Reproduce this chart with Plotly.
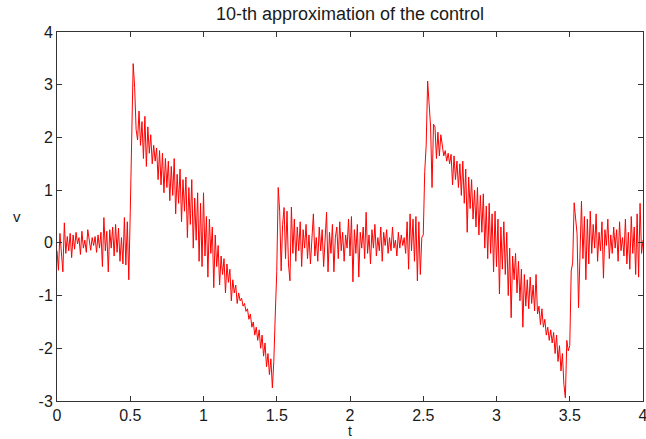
import plotly.graph_objects as go

rest1 = [-0.15, -0.52, 0.18, -0.30, -0.55, 0.38, -0.20, 0.12, -0.15, 0.18,
         -0.28, 0.15, -0.12, 0.20, -0.02, 0.10, -0.22, 0.22, -0.10, 0.05,
         -0.18, 0.25, 0.00, -0.14, 0.10, -0.05, 0.12, -0.18, 0.15, -0.10,
         0.20, -0.45, 0.48, -0.15, 0.22, -0.55, 0.25, -0.10, 0.30, -0.25,
         0.35, -0.18, 0.28, -0.35, 0.10, -0.40, 0.48, -0.42, 0.40, -0.70]

surge1 = [0.58, 2.10, 3.40, 2.95, 2.15, 1.95, 2.50, 1.85, 2.30, 1.60,
          2.40, 1.45, 2.20, 1.70, 2.05, 1.50, 1.85, 1.55, 1.80, 1.20,
          1.75, 1.10, 1.70, 0.95, 1.60, 1.05, 1.55, 0.80, 1.45, 0.90,
          1.60, 0.55, 1.30, 0.75, 1.40, 0.40, 1.20, 0.60, 1.25, 0.10,
          1.05, 0.35, 1.20, -0.10, 0.85, 0.05, 0.95, -0.35, 0.75, -0.45,
          0.95, -0.25, 0.50, -0.65, 0.45, -0.20, 0.30, -0.85, 0.15, -0.45,
          -0.05, -0.80, -0.25, -0.60, -0.30, -0.95, -0.40, -0.75, -0.50, -1.10,
          -0.70, -0.95, -0.80, -1.15, -0.95, -1.10, -1.05, -1.20, -1.15, -1.30,
          -1.25, -1.45, -1.35, -1.60, -1.50, -1.75, -1.60, -1.85, -1.65, -2.00,
          -1.75, -2.15, -1.90, -2.35, -2.10, -2.50, -2.20, -2.75, -2.25, -1.35,
          -0.55, 1.05]

rest2 = [0.60, -0.53, 0.35, 0.67, -0.30, 0.60, -0.40, -0.72, 0.68, -0.20,
         0.45, -0.35, 0.30, -0.15, 0.40, -0.45, 0.25, -0.10, 0.35, -0.30,
         0.15, -0.40, 0.20, 0.55, -0.25, 0.10, -0.35, 0.30, -0.15, 0.25,
         -0.45, 0.15, 0.58, -0.55, 0.20, -0.20, 0.35, -0.55, 0.10, 0.30,
         -0.30, 0.40, -0.15, 0.20, -0.35, 0.15, -0.10, 0.45, -0.25, 0.50,
         -0.74, 0.25, -0.20, 0.35, -0.65, 0.20, -0.10, 0.30, -0.30, 0.58,
         -0.20, 0.15, -0.40, 0.25, -0.10, 0.35, -0.25, 0.10, -0.15, 0.30,
         -0.35, 0.20, -0.05, 0.25, -0.20, 0.10, -0.15, 0.30, -0.10, 0.05,
         -0.25, 0.20, -0.10, 0.15, -0.05, 0.10, -0.20, 0.40, -0.50, 0.55,
         -0.15, 0.45, -0.35, 0.50, -0.72, 0.40, -0.60, 0.10]

surge2 = [0.15, 1.35, 1.85, 3.07, 2.70, 2.20, 1.05, 2.25, 2.20, 1.60,
          2.10, 1.65, 2.05, 1.80, 1.65, 1.75, 1.55, 1.70, 1.50, 1.68,
          1.10, 1.65, 1.20, 1.55, 1.05, 1.50, 0.90, 1.55, 0.75, 1.40,
          0.20, 1.25, 0.65, 1.20, 0.45, 1.00, 0.30, 1.05, 0.15, 0.90,
          0.20, 0.93, -0.10, 0.70, -0.30, 0.75, -0.20, 0.55, -0.55, 0.60,
          -0.45, 0.45, -0.97, 0.30, -0.50, 0.40, -0.60, 0.20, -1.00, -0.10,
          -1.42, -0.25, -0.70, -0.20, -0.95, -0.35, -1.10, -0.50, -1.60, -0.60,
          -1.20, -0.70, -1.25, -0.65, -1.15, -0.80, -1.29, -0.60, -1.35, -1.20,
          -1.55, -1.25, -1.60, -1.45, -1.75, -1.60, -1.85, -1.65, -1.90, -1.70,
          -2.10, -1.75, -2.25, -1.95, -2.43, -2.10, -2.68, -2.94, -1.85, -2.05,
          -1.95, -0.53, -0.38, 0.76, 0.48, 0.17]

rest3 = [-1.23, 0.10, 0.79, -0.30, 0.50, -0.70, 0.45, -0.40, 0.60, -0.20,
         0.35, -0.10, 0.55, -0.35, 0.20, -0.15, 0.40, -0.67, 0.25, -0.05,
         0.45, -0.30, 0.15, -0.20, 0.30, -0.10, 0.25, -0.35, 0.40, -0.15,
         0.10, -0.25, 0.45, -0.40, 0.20, -0.50, 0.50, -0.20, 0.30, -0.60,
         0.55, -0.65, 0.75, -0.20, 0.05]

v = rest1 + surge1 + rest2 + surge2 + rest3
assert len(v) == 401, len(v)
t = [round(0.01 * i, 2) for i in range(len(v))]

x_ticks = [0, 0.5, 1, 1.5, 2, 2.5, 3, 3.5, 4]
x_tick_labels = ["0", "0.5", "1", "1.5", "2", "2.5", "3", "3.5", "4"]
y_ticks = [-3, -2, -1, 0, 1, 2, 3, 4]
y_tick_labels = ["-3", "-2", "-1", "0", "1", "2", "3", "4"]

FONT = "Liberation Sans, Arial, Helvetica, sans-serif"
AX = "#333333"
TXT = "#1a1a1a"

fig = go.Figure()
fig.add_trace(go.Scatter(x=t, y=v, mode="lines",
                         line=dict(color="#ff0000", width=1),
                         showlegend=False, hoverinfo="skip"))

axis_common = dict(showgrid=False, zeroline=False, showline=True,
                   linecolor=AX, linewidth=1, mirror="ticks",
                   ticks="inside", ticklen=5, tickcolor=AX, tickwidth=1,
                   automargin=False, ticklabeloverflow="allow",
                   tickfont=dict(family=FONT, size=16, color=TXT))

fig.update_layout(
    width=646, height=439,
    margin=dict(l=57, r=3, t=32, b=38, autoexpand=False),
    paper_bgcolor="white", plot_bgcolor="white",
    font=dict(family=FONT, color=TXT),
    title=dict(text="10-th approximation of the control",
               x=0.5, xref="paper", y=1 - 14 / 439, yref="container",
               xanchor="center", yanchor="middle", automargin=False,
               font=dict(family=FONT, size=18, color=TXT)),
    xaxis=dict(range=[0, 4], tickvals=x_ticks, ticktext=x_tick_labels,
               **axis_common),
    yaxis=dict(range=[-3, 4], tickvals=y_ticks, ticktext=y_tick_labels,
               **axis_common),
)
fig.add_annotation(text="t", xref="paper", x=0.5, yref="paper", y=0,
                   yanchor="middle", yshift=-30, showarrow=False,
                   borderpad=0,
                   font=dict(family=FONT, size=14, color=TXT))
fig.add_annotation(text="v", xref="paper", x=0, yref="paper", y=0.5,
                   xanchor="center", xshift=-40, showarrow=False,
                   borderpad=0,
                   font=dict(family=FONT, size=15, color=TXT))

fig.write_html("out.html",
               config={"displayModeBar": False, "responsive": False},
               post_script="document.body.style.margin='0';"
                           "document.body.style.padding='0';")
